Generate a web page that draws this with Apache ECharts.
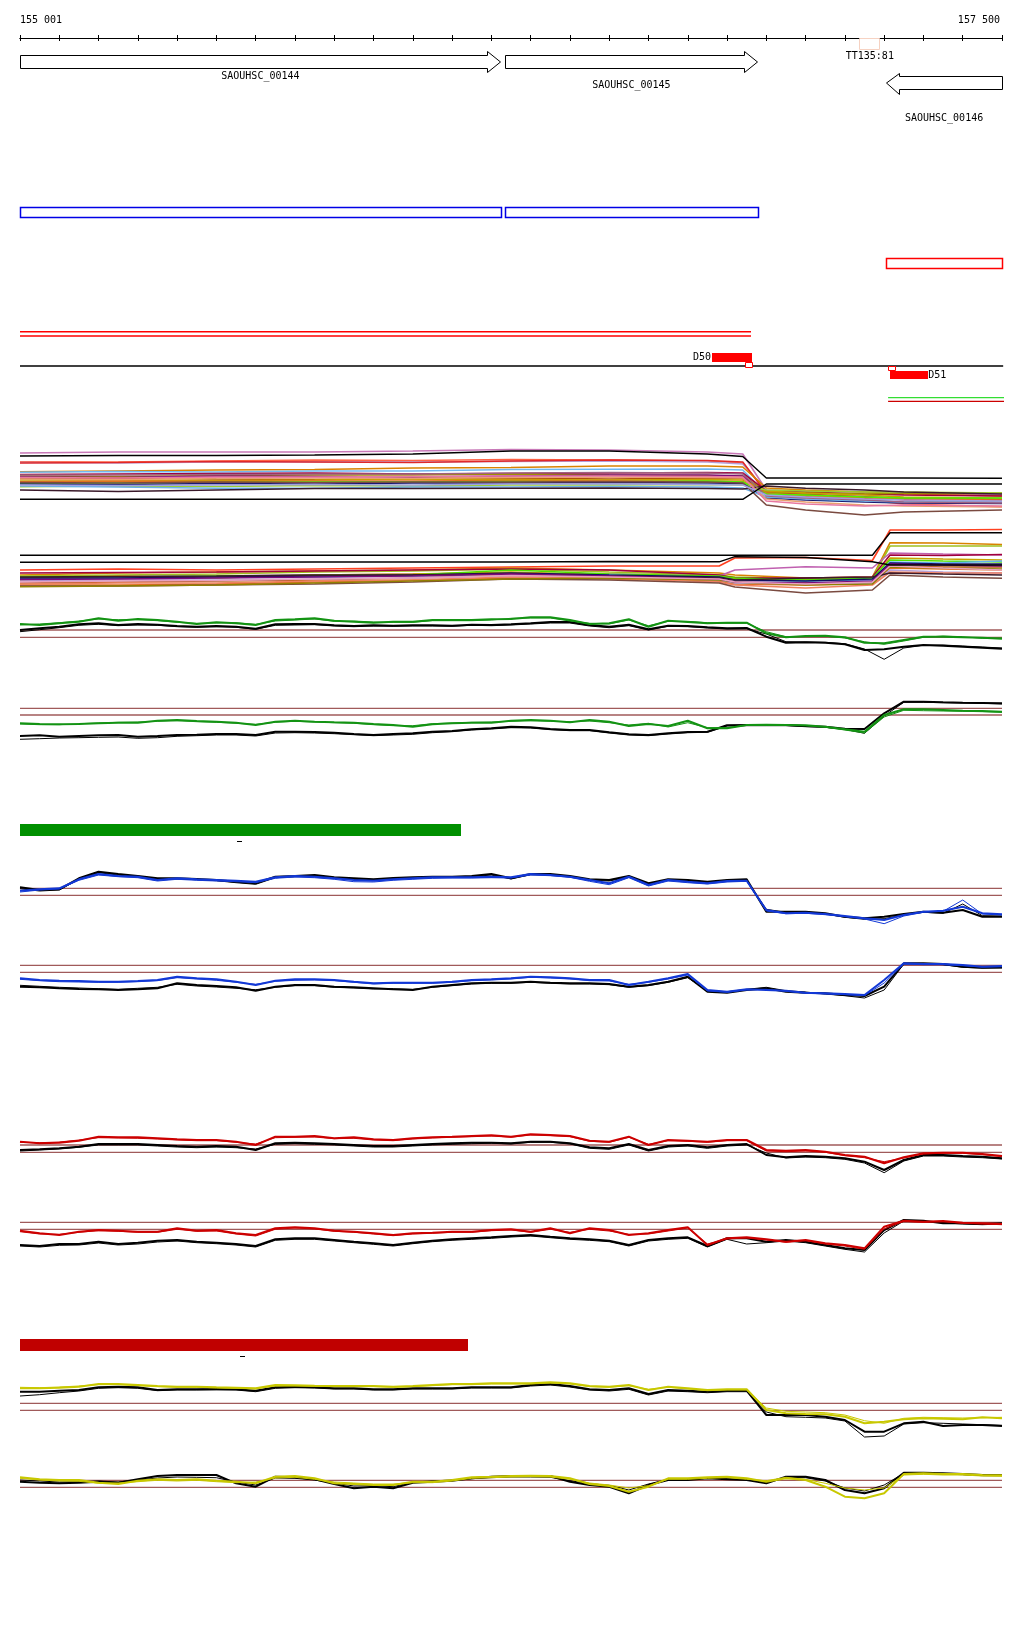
<!DOCTYPE html>
<html><head><meta charset="utf-8">
<script src="https://cdn.jsdelivr.net/npm/echarts@6/dist/echarts.min.js"></script>
<style>html,body{margin:0;padding:0;background:#fff}#c{width:1024px;height:1640px}</style>
</head><body><div id="c"></div><script>
// ================= DATA =================
const REGION_START = 155000, REGION_END = 157500;
const RULER_LABELS = ['155 001', '157 500'];
const RULER_POS = [155000, 157500];

const GENE_NAMES = ['SAOUHSC_00144', 'SAOUHSC_00145', 'SAOUHSC_00146'];
const GENE_START = [155000, 156235, 157205];
const GENE_END = [156224, 156878, 157500];
const GENE_STRAND = ['+', '+', '-'];

const TERM_NAMES = ['TT135:81'];
const TERM_START = [157138];
const TERM_END = [157189];

const TX_PLUS_START = [155000, 156236];
const TX_PLUS_END = [156225, 156879];
const TX_MINUS_START = [157207];
const TX_MINUS_END = [157503];

const RED_PAIR_START = [155000];
const RED_PAIR_END = [156861];
const BASELINE_START = [155000];
const BASELINE_END = [157503];

const DEL_NAMES = ['D50', 'D51'];
const DEL_START = [156762, 157215];
const DEL_END = [156864, 157312];
const DEL_MARK_START = [156846, 157210];
const DEL_MARK_END = [156864, 157228];

const END_TRACK_START = [157210];
const END_TRACK_END = [157556];

const GREEN_BAR = [155000, 156123];
const GREEN_BAR_MARK = [155558];
const RED_BAR = [155000, 156141];
const RED_BAR_MARK = [155565];

// dense multi-strain tracks (depth values)
const P_U = [155000,155250,155500,155750,156000,156250,156500,156750,156840,156900,157000,157150,157250,157500];
const DENSE_U = [
 [33,32,32,32,31,29.5,30,32,34,70,71,72,74,75],
 [41.7,42,41,40,40.5,39.5,40,41,43,72,75,80,84,86.7],
 [42.5,43,42,41.7,42,41.5,41,42,44,70,72,76,79,80],
 [43,42.5,41.5,42,42.5,41,40,40.5,42,73,74,77,80,82],
 [51.7,51,50,49.5,48,47.5,46,46,47,68,70,72,74,76],
 [52.3,51.5,52,51,51,49.5,49.3,49,50,74,76,80,82,83],
 [54.5,54,53.5,53,54,53.5,53,52.5,53,71,72,74,75,76],
 [56,56.5,55.5,55,55,54,55,55.5,56,72,73,74,73.3,73],
 [57,57.5,56,56.5,57,56,55,55,56,75,77,78,79,80],
 [58.3,58,59,59.5,58.5,58,59,58,58.5,74,75,77,78,79],
 [60,60,60.5,60,59,59.5,60,59.5,60,71,73,75,77,78],
 [61.7,61,61.5,61,61,60.5,61,61,61.5,73,76,78,79,80],
 [63.3,63,62.5,62,62,61.5,61.7,61,62,74,75,77,78,78],
 [66.7,66,66.5,65.5,66,65,65,64.5,65,70,71,72,72,73],
 [64,64.5,63.5,64,63,63,62.5,63,63.5,78,80,82,83,83.5],
 [66,67,68.3,68.3,67,67,66.5,67,68,77,79,81,82,82],
 [70,71.5,70,68.5,68.5,68.3,68,68.5,69,66,68.3,70,72,74],
 [59,59.5,58,58,58.5,57.5,57,57.5,58,79,82,85,86,87],
 [62.5,63,62,62.5,62,62,61.5,62,63,85,90,95,92,90],
 [55,55,54.5,54,54,53,52.5,53,54,76,78,80,82,83],
 [57.5,58,57,57,56.5,56,56,56.5,57,81,84,86,85,86],
 [65,65.5,65,64.5,65,64,64,64.5,65,75,77,79,80,81]
];
const DENSE_U_BLACK = [
 [36,35.5,35.5,35,34,31,31,34,36.5,58,58,58,58,58.3],
 [79.3,79.3,79.3,79.3,79.3,79.3,79.3,79.3,79.3,64,64,64,64,64]
];
const P_L = [155000,155250,155500,155750,156000,156250,156500,156780,156820,157000,157170,157215,157350,157500];
const DENSE_L = [
 [150,149,150,149,148,147,146,146,138,137.5,140.5,110,110,109.5],
 [155,153,152,151,150,148,150,153,155,158,157,122.7,123,124.5],
 [156,155,154,152,151,149,152,155,157,159,158,126,126,126],
 [158,157,156,155,154,153,154,156,150,146.7,148,133,134,135],
 [153,152.5,152,151,150,149,150,155,158,158,157,135,135.5,134.5],
 [160,156,158,155,154,152,155,157,159,160,159,138,139,140],
 [157,157,156,155.5,155,150,154,156,158,160,158,140,141,142],
 [159,158,157.5,157,156,155,155,158,160,161,160,142,143,141],
 [158,158,157,156,155,153,155,157,160,161,159,143,144,144],
 [163,162,161,160,158,155,158,161,163,163,162,146,147,147],
 [165,165,164,162,160,158,159,161,164,165,163,148,149,150],
 [161,160,160,159,158,156,157,160,163,164,163,150,152,153],
 [164,163,163,161,160,157,158,162,165,168,165,152,153,153],
 [166,166,165,164,162,159,160,163,167,173,170,155,157,158.3],
 [166.7,166,165,163,161,159,158,160,162,165,164,147,148,149],
 [157,156.5,156,155,155,154,156,158,160,158,157,153,154,155],
 [159.5,159,158,157,156,154,156,159,162,163,161,144,145,146],
 [162,161,160.5,159,158,155.5,157,159,162,164,162,146,148,150]
];
const DENSE_L_BLACK = [
 [135.3,135.3,135.3,135.3,135.3,135.3,135.3,135.3,135.3,135.3,135.3,112.7,112.7,112.7],
 [142.3,142.3,142.3,142,142,142,141.5,141.8,136.7,137.5,141.7,145,145,145]
];

// tiling-array profiles, sampled every 50 bp (depth values)
const GREEN_A1 = [24,25,23.3,21.7,18.3,20.7,19,20,21.7,24, 22.3,23.3,25,20,19.3,18.3,20.7,21.7,22.7,21.7, 21.7,20,20,20,19.3,19,17.3,17.3,20,24, 23.3,19.3,26.7,20.7,22,23.3,22.7,22.7,33.3,37.3, 36,35.7,37.3,42.7,43.3,40,36.7,36.7,37.3,37.7,38.7];
const GREEN_A2 = [25,24,22.7,21,19,19.7,19.7,20.7,22.3,23.3, 23,22.7,24.3,21,20,19,21.3,21,22,22.3, 22.3,20.7,20.7,20.7,20,18.3,18,18,21,23.3, 24,20,25.7,21.3,21.3,22.7,23.3,23.3,31.7,36.7, 36.7,36.3,38,41.7,44.3,41,37.3,36,36.7,38.3,38];
const BLACK_A1 = [30,28.3,26.7,24.3,23.3,25,24,24.7,26,26.7, 26,26.7,28.7,24.3,24,24,25.3,26,25.3,25.7, 25.3,25.3,25.7,24.7,25,24.3,23.3,22,22,25, 26.7,24.7,29.3,25.7,26,27.3,28.3,28,36.7,42.7, 42.3,42.7,44.3,50,49.3,46.7,45,45.7,46.7,47.7,48.7];
const BLACK_A2 = [31.7,29.7,27.7,25.3,24.3,25.7,25,25.3,26.7,27.3, 26.7,27.3,29.3,25.3,25,24.7,26,26.7,26,26.3, 26,26,26.3,25.3,25.7,25,24,23,23,26, 27.7,25.7,30,26.3,26.7,28,29,28.7,34,41.7, 42,42.3,43.7,49,59.3,48,45.3,45,46,47,48];
const GREEN_B1 = [123.3,124,124.3,124,123.3,122.7,122.7,120.7,120,121, 121.7,122.7,125,121.7,120.7,121.7,122.3,122.7,124,125, 126.7,124.3,123.3,122.7,122.7,120.7,120,120.7,122.3,120, 121.7,126,124,126,120.7,128.3,128.3,125,124.7,125, 125.3,126.7,129.3,131.7,115,109.3,109.3,110,110.7,111,111.7];
const GREEN_B2 = [124,124.7,124.7,123.7,123,122.3,122,121.3,120.7,121.7, 122.3,123.3,124.3,122.3,121.3,122,122.7,123.3,124.7,125.7, 125.7,123.7,123,122.3,122,121.3,120.7,121.3,121.7,121, 122.7,125,123.3,127,122.7,127.7,127.7,125.3,125,125.3, 125.7,127.3,130,133,117,110.3,110.7,111,111.3,111.7,112.3];
const BLACK_B1 = [136,135.3,136.7,136,135.3,135,136.7,136,135,134.7, 134,134,135,131.7,131.7,132,132.7,134,135,134, 133.3,131.7,131,129.3,128.3,126.7,127.3,129,130,130, 132.3,134.3,135,133.3,132,131.7,125.3,125,125,125, 126,126.7,128.7,129,113.3,101.7,101.7,102.3,102.7,103,103.3];
const BLACK_B2 = [139.3,138.7,138,137.7,137.3,137,138.3,137.7,136.3,135.7, 135,135,136,133,132.7,133,133.7,134.7,135.7,135, 134.3,132.7,131.7,130,129,127.7,128,129.7,130.7,130.7, 133,135,135.7,134,132.7,132.3,126,125.7,125.7,125.7, 126.7,127.3,129.3,133.3,116,102.3,102.3,102.7,103,103.3,104];

const BLUE_C1 = [90.7,89.3,88.3,79.3,74,76,76.7,80,78.3,79.3, 80,80.7,81.7,77.3,76,76.7,78.3,80,80.7,79.3, 78.3,77.3,77.3,77.3,76.7,77.3,74,75,76.7,80, 83.3,76.7,85,80,81.7,83.3,81,80.7,110,113.3, 112.7,114,116,118.3,120,115,111.7,110.7,106.7,113.3,114.3];
const BLUE_C2 = [92,90,89,80.3,75,76.7,77.7,81,79.3,80.3, 81,81.7,82.7,78.3,77,77.7,79.3,81.7,82,80.3, 79.3,78.3,78,78,77.7,78,75,75.7,77.3,81.3, 84.7,77.7,86,81,82.7,84,82,81.3,111,113.7, 113.3,114.7,116.7,119,123.7,116,112.3,111.3,100,114,115];
const BLACK_C1 = [87.3,90,89.3,78.3,71.7,74,76,78.3,78.3,79, 80,81.7,83.3,76.7,76,75,77.3,78.3,79.3,78, 77.3,76.7,76.7,76,74,78.3,74,74,76,79.3, 80,76,83.3,79.3,80,81.7,80,79.3,111.7,111.7, 111.7,113.3,116.7,118.3,116.7,114,111.7,112.7,110,116.7,116.7];
const BLACK_C2 = [88.7,91,90,79.3,72.7,75,77,79.3,79,79.7, 80.7,82.7,84.3,77.7,76.7,76,78,79.3,80.3,79, 78.3,77.7,77.3,76.7,75,79,74.7,75,77,80.3, 81,77,84.3,80,81,82.7,81,80.3,109.3,112.3, 112.3,114,117.3,119.3,118.7,114.7,112.3,113.3,104,115.7,116];
const BLUE_D1 = [178.3,180,180.7,181,181.7,181.7,181,180,176.7,178.3, 179.3,181.7,185,180.7,179.3,179.3,180,181.7,183.3,182.7, 182.7,182.7,181.7,180,179.3,178.3,176.7,177.3,178.3,180, 180,185,181.7,178.3,174,190,191.7,189.3,190,190.7, 192.7,193.3,194,195,180,163.3,164,164,165,166.7,166];
const BLUE_D2 = [179.3,180.7,181.7,182,182.3,182.3,181.7,180.7,177.7,179, 180.3,182.3,184.3,181.3,180.3,180,180.7,182.3,184,183.3, 183.3,183.3,182.3,180.7,180,179,177.3,178,179,180.7, 181,184.3,182.3,179,175,191,192.3,190,189.3,191.3, 193.3,194,194.7,195.7,183,164,164.7,164.7,165.7,167,166.7];
const BLACK_D1 = [186.7,187.3,188.3,189,189.3,190,189.3,188.3,183.3,185, 186,187.3,190.7,186.7,185,185,186.7,187.3,188.3,189.3, 190,186.7,185,183.3,182.7,182.7,181.7,182.7,183.3,183.3, 184,186.7,185,181.7,176.7,191.7,192.7,190,188.3,191.7, 192.7,193.3,195,196,186.7,163.3,163.3,164,166.7,167.7,167.3];
const BLACK_D2 = [185.3,186.3,187.3,188,188.7,189.3,188.3,187.3,184.3,186, 187,188.3,189.7,187.3,185.7,185.7,187.3,188,189,188.7, 189.3,187.3,185.7,184,183.3,183.3,182.3,183.3,184,184, 184.7,187.3,185.7,182.3,177.7,190.7,191.7,189.3,187.3,190.7, 192,194,195.7,198,190,164,163.7,164.7,167.3,168,168];

const RED_E1 = [21.7,23.3,22.7,20.7,16.7,17.3,17.3,18.3,19.3,20, 20,21.7,25,16.7,16.7,16,18.3,17.3,19.3,20, 18.3,17.3,16.7,16,15.3,16.7,14.3,15,16,20.7, 21.7,16.7,25,20,20.7,21.7,20,20,30,30.7, 30,31.7,35,36.7,43.3,37.3,33.3,32.7,32.7,34,36];
const RED_E2 = [22.3,22.7,22,20,17.7,18,18.3,19,20,20.7, 20.7,22.3,24,17.7,17.3,17,18.7,18.3,20,20.7, 19,18,17.3,16.7,16,17.3,15,15.7,16.7,21.3, 22.3,17.3,24.3,20.7,21.3,22.3,20.7,20.7,31,31.7, 31,32.3,35.7,37.7,41.7,38,34,33.3,33.3,34.7,36.7];
const BLACK_E1 = [30,29.3,28.3,26.7,24,24,24,25,26,26.7, 26,26.7,30,23.3,22.7,23.3,24,25,26,26, 25,24,23.3,22.7,22.7,23.3,21.7,21.7,23.3,27.3, 28.3,24,30,26,25,27.3,25,24,35,37.3, 36,36.7,38.3,41.7,50,40,35,35,36,36.7,38.3];
const BLACK_E2 = [31,30,29,27.3,25,25,25,26,27,27.7, 27,27.7,29,24.3,23.7,24.3,25,26,27,27, 26,25,24.3,23.7,23.3,24,22.3,22.3,24,28.3, 29.3,25,31,27,26,28.3,26,25,33,38, 37,37.7,39.3,43,52.7,41,36,36,37,37.7,39];
const RED_F1 = [110.7,113.3,115,111.7,110,110.7,111.7,111.7,108.3,110.7, 110,113.3,115,108.3,107.3,108.3,110.7,111.7,113.3,115, 113.3,112.7,111.7,111.7,110,109.3,111.7,108.3,113.3,108.3, 110,115,113.3,110,107.3,125,118.3,117.3,119.3,121.7, 120,123.3,125,128.3,106.7,100.7,101.7,101,102.7,103.3,104];
const RED_F2 = [111.7,114,114.3,112.3,110.7,111.3,112.3,112.3,109.3,111.3, 111,114,116,109.3,108,109,111.3,112.3,114,115.7, 114,113.3,112.3,112.3,110.7,110,112.3,109.3,112.3,109.3, 111,114.3,114,111,108,124,119,118,120,122.3, 120.7,124,126,129.3,109,101.3,102.3,101.7,103.3,104,104.7];
const BLACK_F1 = [125,126,124,124,121.7,124,122.7,120.7,120,121.7, 122.7,124,126,119.3,118.3,118.3,120,121.7,123.3,125, 122.7,120.7,119.3,118.3,117.3,116,115,116.7,118.3,119.3, 120.7,125,120,118.3,117.3,126,118.3,118.3,121.7,120, 121.7,125,128.3,130,110,100,100.7,103.3,103.3,104,103.3];
const BLACK_F2 = [126,127,125.3,125,123,125,124,122,121,122.7, 123.7,125,127,120.3,119.3,119.3,121,122.7,124.3,126, 123.7,121.7,120.3,119.3,118.3,117,116,117.7,119.3,120.3, 121.7,126,121,119.3,118.3,127,119.3,124,122.7,121, 122.7,126,129.3,132,113,101,101.3,102.7,104,104.7,104];

const YEL_G1 = [68.3,68.3,67.7,66.7,64,64,65,66,66.7,66.7, 67.3,67.7,68.3,65,65.3,65.7,66,66,66,66.7, 66,65,64,64,63.3,63.3,63.3,62.3,63.3,66, 66.7,65,70,66.7,68.3,70,69.3,69.3,90,93.3, 94,94.3,96.7,103.3,101.7,99.3,98.3,98.7,99.3,97.3,98.3];
const YEL_G2 = [67.3,67.7,67,66,64.7,64.7,65.7,66.7,67.3,67.3, 68,68.3,69,66,66,66.3,66.7,66.7,66.7,67.3, 66.7,65.7,64.7,64.7,64,64,64,63,64,66.7, 67.3,65.7,69.3,67.3,69,70.7,70,70,88,91.3, 92,92.7,95,100.7,103.3,98.3,97.3,97.7,98,97.7,97.3];
const BLACK_G1 = [71.7,71.7,70.7,70,67.3,66.7,67.3,70,69.3,69.3, 69,69.3,70.7,67.3,66.7,67.3,68.3,68.3,69.3,69.3, 68.3,68.3,68.3,67.3,67.3,67.3,65,64,66,69.3, 70,68.3,74,70,70.7,71.7,70.7,70.7,95,95, 95,96.7,100,111.7,111.7,103.3,101.7,106,105,105,106];
const BLACK_G2 = [76,74.7,72.7,71,68.3,67.7,68.3,70.7,70,70, 69.7,70,71.7,68.3,67.7,68,69,69,70,70, 69,69,69,68,68,68,66,65,67,70, 71,69.3,75,71,71.7,72.7,71.7,71.7,92,96.7, 97.3,98,101,117,116,104,102.7,103.3,104,104.7,105.3];
const YEL_H1 = [157.3,159.3,160,160,162.7,164,160.7,159.3,160,159.3, 160.7,161.7,163.3,156.7,156,158.3,163.3,164,165,165, 161.7,161.7,160,157.3,156.7,156,155.7,156,158.3,164, 166,171.7,166.7,158.3,158.3,157.3,156.7,158.3,161.7,158.3, 160,166.7,176.7,178.3,173.3,154,153.3,154,154,155,155.3];
const YEL_H2 = [158.3,160,161,161.3,163.3,163,161.7,160.3,161,160.3, 161.7,162.7,162,158,157.3,159.3,162,163,164,164, 162.7,162.7,161,158.3,157.7,157,156.7,157,159.3,163, 165,168,165.7,159.3,159.3,158.3,157.7,159.3,160.7,157.3, 159.3,163.3,168,170,168,155,154.3,155,155,156,156.3];
const BLACK_H1 = [161.7,162.7,163.3,162.7,161.7,162.7,159.3,156,155,155, 155,163.3,166.7,156.7,157.3,159.3,164,168.3,166.7,168.3, 162.7,161.7,160.7,158.3,156.7,156,156,156,161.7,165, 166.7,173.3,165,160,160,158.3,159.3,160,163.3,156.7, 156.7,160,170,173.3,168.3,152.7,152.7,153.3,154,155,155];
const BLACK_H2 = [160,161,162,161.7,161,162,160,158,157,157.3, 157.7,162,165,158,158.3,160,163,166,165.7,166.7, 162,161,160,158.7,157.7,157,157,157.3,160.7,163.7, 165.3,170,164,159.3,159.3,158,158.7,159.3,162,157.7, 157.7,161,168,171,165,153.3,153.3,154,154.7,155.7,155.7];

const THR_GREEN = [30, 37.3, 108.3, 115];
const THR_BLUE = [88.3, 95.3, 165.3, 172.3];
const THR_RED = [25, 32.3, 102.3, 109.3];
const THR_YELLOW = [83.3, 90.3, 160.3, 167.3];

// ================= LAYOUT / STYLE =================
const FONT = '10px "DejaVu Sans Mono", "Liberation Mono", monospace';
const GRIDS = [
  {top: 20, height: 18},   // 0 ruler (bottom ticks)
  {top: 38, height: 10},   // 1 ruler (top ticks)
  {top: 0, height: 130},   // 2 genes
  {top: 190, height: 230}, // 3 annotations
  {top: 420, height: 200}, // 4 dense strain tracks
  {top: 600, height: 150}, // 5 green
  {top: 800, height: 200}, // 6 blue
  {top: 1120, height: 140},// 7 red
  {top: 1320, height: 200} // 8 yellow
];
const GENE_LANE = {
  '+': {top: 55.3, bot: 68.3, hTop: 51, hBot: 72.3, head: 12.7},
  '-': {top: 76.3, bot: 89.3, hTop: 73.3, hBot: 94.3, head: 13.3}
};
const GENE_LABEL_Y = [76, 85, 118];
const RULER_LABEL_Y = 20.5;
const TERM_BOX = [38, 49], TERM_LABEL_Y = 56;
const ANN = {
  txPlus: [17, 27], txMinus: [68, 78], redPair: [141.7, 146], base: 176,
  del: [{top: 163, bot: 172, mTop: 172, mBot: 177, side: 'left'}, {top: 181, bot: 189, mTop: 176, mBot: 180, side: 'right'}],
  endGreen: 207.7, endRed: 211.3
};
const BAR_LANE = {green: [24, 36, 41], red: [19, 31, 36]};
const DENSE_COLORS_U = ['#c878b8','#ff6347','#b4a0d8','#e02828','#d98200','#70b8f0','#a0003c','#a09000','#7a0a7a','#b0500a','#c8a000','#e07020','#50f000','#9acd32','#1a1a70','#6ab0e8','#3a1a2a','#e8a070','#7a4a40','#a06080','#e878a0','#a0a0e0'];
const DENSE_COLORS_L = ['#ff4020','#d98200','#a0c020','#c060b0','#a0003c','#c8a000','#50e000','#60b0f0','#101060','#b0500a','#e07020','#b4a0d8','#f08060','#7a4a40','#908000','#3a1a2a','#7a0a7a','#e8a0c0'];
const C_GREEN = '#139313', C_BLUE = '#1238d6', C_RED = '#cc0000', C_YEL = '#c8c800', C_THR = '#a05a5a';

// ================= BUILD =================
const X50 = Array.from({length: 51}, (_, i) => REGION_START + 50 * i);
const cr = v => Math.round(v - 0.5) + 0.5;

const grid = GRIDS.map(g => ({left: 20, right: 22, top: g.top, height: g.height}));
const xAxis = GRIDS.map((g, i) => {
  const base = {type: 'value', gridIndex: i, min: REGION_START, max: REGION_END, interval: 100};
  if (i === 0 || i === 1) {
    return Object.assign(base, {
      position: i === 0 ? 'bottom' : 'top',
      axisLine: {show: true, onZero: false, lineStyle: {color: '#000', width: 1}},
      axisTick: {show: true, length: 3, lineStyle: {color: '#000', width: 1}},
      axisLabel: {show: false}, splitLine: {show: false}
    });
  }
  return Object.assign(base, {show: false, axisLine: {onZero: false}, splitLine: {show: false}});
});
const yAxis = GRIDS.map((g, i) => ({type: 'value', gridIndex: i, min: 0, max: g.height, inverse: true, show: false, splitLine: {show: false}}));

const series = [];
function lineS(gi, xs, ys, color, width, z) {
  return {type: 'line', xAxisIndex: gi, yAxisIndex: gi, data: xs.map((x, k) => [x, ys[k]]),
    symbol: 'none', silent: true, animation: false, z: z || 2, lineStyle: {color: color, width: width}};
}
function custom(gi, data, renderItem, z) {
  return {type: 'custom', xAxisIndex: gi, yAxisIndex: gi, data: data, renderItem: renderItem,
    silent: true, animation: false, clip: false, z: z || 3};
}
const txt = (text, x, y, align) => ({type: 'text', style: {text: text, x: x, y: y, align: align, verticalAlign: 'middle', font: FONT, fill: '#000'}});

// ruler labels
series.push(custom(2, RULER_POS.map((p, i) => [p, i]), (params, api) => {
  const i = params.dataIndex;
  const p = api.coord([api.value(0), RULER_LABEL_Y]);
  return txt(RULER_LABELS[i], i === 0 ? p[0] : p[0] - 2, p[1], i === 0 ? 'left' : 'right');
}));

// genes
series.push(custom(2, GENE_START.map((s, i) => [s, GENE_END[i]]), (params, api) => {
  const i = params.dataIndex, L = GENE_LANE[GENE_STRAND[i]];
  const x0 = cr(api.coord([api.value(0), 0])[0]), x1 = cr(api.coord([api.value(1), 0])[0]);
  const y = v => cr(api.coord([api.value(0), v])[1]);
  const yt = y(L.top), yb = y(L.bot), ht = y(L.hTop), hb = y(L.hBot), ym = (yt + yb) / 2;
  let pts;
  if (GENE_STRAND[i] === '+') {
    const hx = cr(x1 - L.head);
    pts = [[x0, yt], [hx, yt], [hx, ht], [x1, ym], [hx, hb], [hx, yb], [x0, yb]];
  } else {
    const hx = cr(x0 + L.head);
    pts = [[x1, yt], [hx, yt], [hx, ht], [x0, ym], [hx, hb], [hx, yb], [x1, yb]];
  }
  const mid = api.coord([(api.value(0) + api.value(1)) / 2, GENE_LABEL_Y[i]]);
  return {type: 'group', children: [
    {type: 'polygon', shape: {points: pts}, style: {fill: '#fff', stroke: '#000', lineWidth: 1}},
    txt(GENE_NAMES[i], mid[0], mid[1], 'center')
  ]};
}, 4));

// terminator
series.push(custom(2, TERM_START.map((s, i) => [s, TERM_END[i]]), (params, api) => {
  const i = params.dataIndex;
  const a = api.coord([api.value(0), TERM_BOX[0]]), b = api.coord([api.value(1), TERM_BOX[1]]);
  const m = api.coord([(api.value(0) + api.value(1)) / 2, TERM_LABEL_Y]);
  return {type: 'group', children: [
    {type: 'rect', shape: {x: cr(a[0]), y: cr(a[1]), width: Math.round(b[0] - a[0]), height: Math.round(b[1] - a[1])}, style: {fill: '#fff', stroke: '#f6d2c2', lineWidth: 1}},
    txt(TERM_NAMES[i], m[0], m[1], 'center')
  ]};
}, 5));

// annotation boxes
function boxSeries(starts, ends, lane, stroke, fill, lw) {
  return custom(3, starts.map((s, i) => [s, ends[i]]), (params, api) => {
    const a = api.coord([api.value(0), lane[0]]), b = api.coord([api.value(1), lane[1]]);
    return {type: 'rect', shape: {x: cr(a[0]), y: cr(a[1]), width: Math.round(b[0] - a[0]), height: Math.round(b[1] - a[1])},
      style: {fill: fill, stroke: stroke, lineWidth: lw}};
  });
}
series.push(boxSeries(TX_PLUS_START, TX_PLUS_END, ANN.txPlus, '#0000e6', '#fff', 1.5));
series.push(boxSeries(TX_MINUS_START, TX_MINUS_END, ANN.txMinus, '#ff0000', '#fff', 1.5));
series.push(lineS(3, [RED_PAIR_START[0], RED_PAIR_END[0]], [ANN.redPair[0], ANN.redPair[0]], '#ff0000', 1.4, 3));
series.push(lineS(3, [RED_PAIR_START[0], RED_PAIR_END[0]], [ANN.redPair[1], ANN.redPair[1]], '#ff0000', 1.4, 3));
series.push(Object.assign(lineS(3, [BASELINE_START[0], BASELINE_END[0]], [ANN.base, ANN.base], '#000', 1.4, 3), {clip: false}));
series.push(Object.assign(lineS(3, [END_TRACK_START[0], END_TRACK_END[0]], [ANN.endGreen, ANN.endGreen], '#33dd33', 1.2, 3), {clip: false}));
series.push(Object.assign(lineS(3, [END_TRACK_START[0], END_TRACK_END[0]], [ANN.endRed, ANN.endRed], '#cc0000', 1.2, 3), {clip: false}));

// deletions
series.push(custom(3, DEL_START.map((s, i) => [s, DEL_END[i], DEL_MARK_START[i], DEL_MARK_END[i]]), (params, api) => {
  const i = params.dataIndex, L = ANN.del[i];
  const a = api.coord([api.value(0), L.top]), b = api.coord([api.value(1), L.bot]);
  const ma = api.coord([api.value(2), L.mTop]), mb = api.coord([api.value(3), L.mBot]);
  const ym = (a[1] + b[1]) / 2;
  return {type: 'group', children: [
    {type: 'rect', shape: {x: Math.round(a[0]), y: Math.round(a[1]), width: Math.round(b[0] - a[0]), height: Math.round(b[1] - a[1])}, style: {fill: '#ff0000'}},
    {type: 'rect', shape: {x: cr(ma[0]), y: cr(ma[1]), width: Math.round(mb[0] - ma[0]), height: Math.round(mb[1] - ma[1])}, style: {fill: '#fff', stroke: '#ff0000', lineWidth: 1}},
    L.side === 'left' ? txt(DEL_NAMES[i], a[0] - 1, ym, 'right') : txt(DEL_NAMES[i], b[0], ym, 'left')
  ]};
}, 5));

// dense tracks
DENSE_U.forEach((d, k) => series.push(lineS(4, P_U, d, DENSE_COLORS_U[k % DENSE_COLORS_U.length], 1.6, 2)));
DENSE_U_BLACK.forEach(d => series.push(lineS(4, P_U, d, '#000', 1.4, 3)));
DENSE_L.forEach((d, k) => series.push(lineS(4, P_L, d, DENSE_COLORS_L[k % DENSE_COLORS_L.length], 1.6, 2)));
DENSE_L_BLACK.forEach(d => series.push(lineS(4, P_L, d, '#000', 1.4, 3)));

// profile panels
function panel(gi, thr, color, c1, c2, k1, k2) {
  thr.forEach(v => series.push(lineS(gi, [REGION_START, REGION_END], [v, v], C_THR, 1.3, 1)));
  series.push(lineS(gi, X50, k1, '#000', 2, 2));
  series.push(lineS(gi, X50, k2, '#000', 1, 2));
  series.push(lineS(gi, X50, c1, color, 2, 3));
  series.push(lineS(gi, X50, c2, color, 1, 3));
}
panel(5, THR_GREEN, C_GREEN, GREEN_A1, GREEN_A2, BLACK_A1, BLACK_A2);
panel(5, [], C_GREEN, GREEN_B1, GREEN_B2, BLACK_B1, BLACK_B2);
panel(6, THR_BLUE, C_BLUE, BLUE_C1, BLUE_C2, BLACK_C1, BLACK_C2);
panel(6, [], C_BLUE, BLUE_D1, BLUE_D2, BLACK_D1, BLACK_D2);
panel(7, THR_RED, C_RED, RED_E1, RED_E2, BLACK_E1, BLACK_E2);
panel(7, [], C_RED, RED_F1, RED_F2, BLACK_F1, BLACK_F2);
panel(8, THR_YELLOW, C_YEL, YEL_G1, YEL_G2, BLACK_G1, BLACK_G2);
panel(8, [], C_YEL, YEL_H1, YEL_H2, BLACK_H1, BLACK_H2);

// sample bars
function sampleBar(gi, bar, mark, lane, color) {
  series.push(custom(gi, [[bar[0], bar[1], mark[0]]], (params, api) => {
    const a = api.coord([api.value(0), lane[0]]), b = api.coord([api.value(1), lane[1]]);
    const m = api.coord([api.value(2), lane[2]]);
    return {type: 'group', children: [
      {type: 'rect', shape: {x: Math.round(a[0]), y: Math.round(a[1]), width: Math.round(b[0] - a[0]), height: Math.round(b[1] - a[1])}, style: {fill: color}},
      {type: 'rect', shape: {x: Math.round(m[0]) - 2, y: Math.round(m[1]), width: 5, height: 1}, style: {fill: '#000'}}
    ]};
  }));
}
sampleBar(6, GREEN_BAR, GREEN_BAR_MARK, BAR_LANE.green, '#009000');
sampleBar(8, RED_BAR, RED_BAR_MARK, BAR_LANE.red, '#c00000');

const chart = echarts.init(document.getElementById('c'), null, {renderer: 'canvas'});
chart.setOption({animation: false, backgroundColor: '#fff', grid: grid, xAxis: xAxis, yAxis: yAxis, series: series});
</script></body></html>
